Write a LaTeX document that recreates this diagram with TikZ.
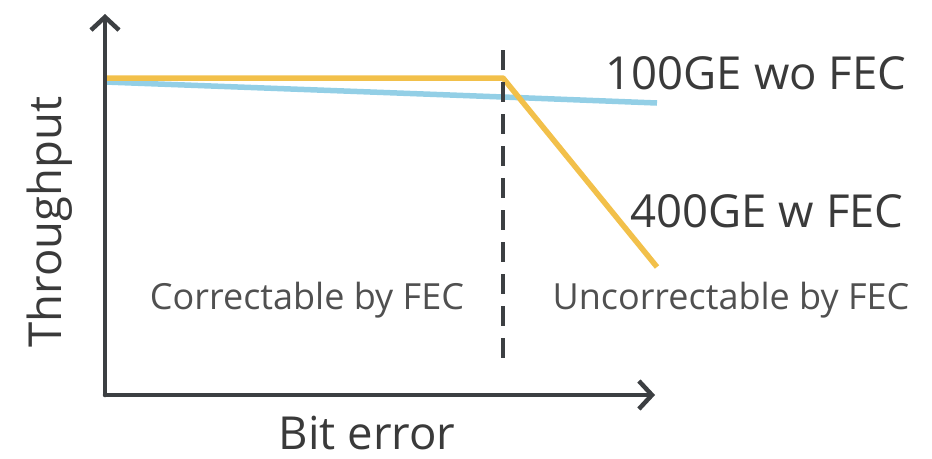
\documentclass[tikz,border=0pt]{standalone}
\usepackage{fontspec}
\setmainfont{Open Sans}
\usetikzlibrary{arrows.meta}
\definecolor{axisc}{HTML}{3C3F42}
\definecolor{goldc}{HTML}{F2C04A}
\definecolor{bluec}{HTML}{93CFE6}
\definecolor{txtc}{HTML}{3A3A3A}
\definecolor{txtl}{HTML}{505050}
\tikzset{
  axis/.style={draw=axisc, line width=4.5pt, line cap=round, -{Straight Barb[length=13pt,width=28pt,line width=4.5pt]}},
  curve/.style={line width=5.5pt, line join=round},
  big/.style={text=txtc, font=\fontsize{45.5}{50}\selectfont, inner sep=0pt},
  small/.style={text=txtl, font=\fontsize{36}{40}\selectfont, inner sep=0pt},
}
\begin{document}
\begin{tikzpicture}[x=1pt,y=-1pt]
\useasboundingbox (0,0) rectangle (932,458);
\coordinate (o) at (105,395);
\coordinate (ytop) at (105,14);
\coordinate (xend) at (655,395);
\coordinate (y0) at (105,78);
\coordinate (y1) at (503,78);
\coordinate (y2) at (657,267);
\coordinate (b0) at (105,82);
\coordinate (b1) at (503,97);
\coordinate (b2) at (657,103);
\coordinate (d0) at (503,50);
\coordinate (d1) at (503,368);
\draw[curve, bluec] (b0) -- (b1) -- (b2);
\draw[curve, goldc] (y0) -- (y1) -- (y2);
\draw[axisc, line width=4pt, dash pattern=on 20pt off 12pt] (d0) -- (d1);
\draw[axis] (o) -- (ytop);
\draw[axis] (o) -- (xend);
\node[big] (l100) at (756,73) {100GE wo FEC};
\node[big] (l400) at (767,211) {400GE w FEC};
\node[small] (corr) at (307,300) {Correctable by FEC};
\node[small] (unc) at (731,300) {Uncorrectable by FEC};
\node[big] (xlab) at (367,433) {Bit error};
\node[big, rotate=90] (ylab) at (50,222) {Throughput};
\end{tikzpicture}
\end{document}
